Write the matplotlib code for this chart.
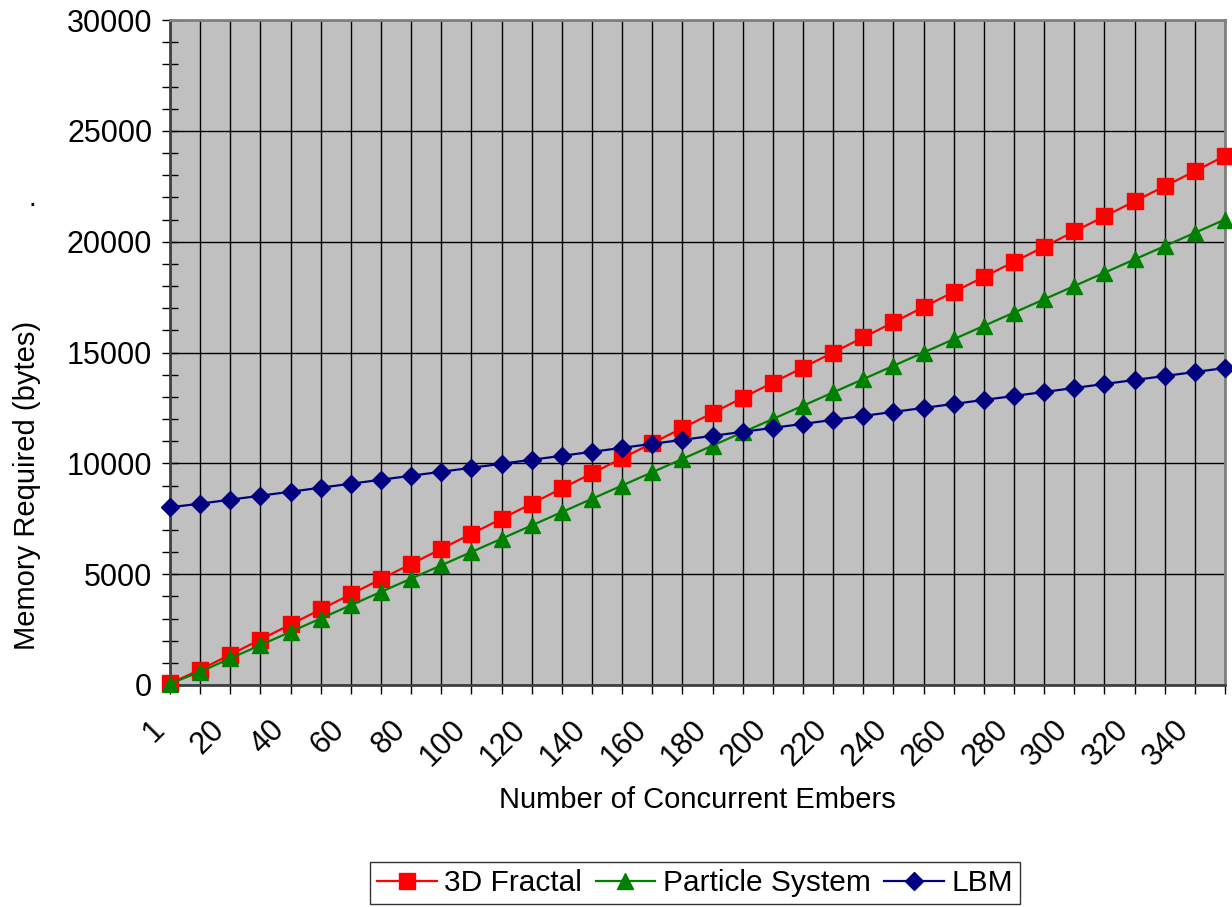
import matplotlib
matplotlib.use("Agg")
import matplotlib.pyplot as plt
from matplotlib.ticker import MultipleLocator
from matplotlib.transforms import ScaledTranslation

plt.rcParams["font.family"] = ["Liberation Sans", "DejaVu Sans"]

# =====================
# data
# =====================
embers = [1, 10, 20, 30, 40, 50, 60, 70, 80, 90, 100, 110, 120, 130, 140, 150, 160, 170,
          180, 190, 200, 210, 220, 230, 240, 250, 260, 270, 280, 290, 300, 310, 320, 330, 340, 350]

fractal_3d = [70, 690, 1370, 2050, 2730, 3410, 4090, 4780, 5460, 6140, 6820, 7500,
              8180, 8870, 9550, 10230, 10910, 11590, 12270, 12960, 13640, 14320, 15000, 15680,
              16360, 17050, 17730, 18410, 19090, 19770, 20460, 21140, 21820, 22500, 23180, 23870]

particle_system = [60, 600, 1200, 1800, 2400, 3000, 3600, 4200, 4800, 5400, 6000, 6600,
                   7200, 7800, 8400, 9000, 9600, 10200, 10800, 11400, 12000, 12600, 13200, 13800,
                   14400, 15000, 15600, 16200, 16800, 17400, 18000, 18600, 19200, 19800, 20400, 21000]

lbm = [8018, 8180, 8360, 8540, 8720, 8900, 9080, 9260, 9440, 9620, 9800, 9980,
       10160, 10340, 10520, 10700, 10880, 11060, 11240, 11420, 11600, 11780, 11960, 12140,
       12320, 12500, 12680, 12860, 13040, 13220, 13400, 13580, 13760, 13940, 14120, 14300]

series = [
    ("3D Fractal", fractal_3d, "#FF0000", "s", 11),
    ("Particle System", particle_system, "#008000", "^", 12),
    ("LBM", lbm, "#000080", "D", 9),
]

# =====================
# figure
# =====================
W, H = 1232, 907
fig = plt.figure(figsize=(W / 100, H / 100), dpi=100)
ax = fig.add_axes([170 / W, 1 - 685 / H, 1055 / W, 665 / H])
ax.set_facecolor("#C0C0C0")

pos = list(range(len(embers)))
for name, vals, color, marker, ms in series:
    ax.plot(pos, vals, color=color, lw=1.6, marker=marker, ms=ms,
            markeredgecolor=color, label=name, clip_on=False, zorder=3)

ax.set_xlim(0, len(embers) - 1)
ax.set_ylim(0, 30000)

# category ticks, label every second one
ax.set_xticks(pos)
ax.set_xticklabels([str(e) if i % 2 == 0 else "" for i, e in enumerate(embers)],
                   rotation=45, ha="right", va="top", rotation_mode="anchor", fontsize=22)
ax.tick_params(axis="x", length=6.5, width=1, pad=15, direction="out")
shift = ScaledTranslation(-21 / 100, 0, fig.dpi_scale_trans)
for lbl in ax.get_xticklabels():
    lbl.set_transform(lbl.get_transform() + shift)

ax.yaxis.set_major_locator(MultipleLocator(5000))
ax.yaxis.set_minor_locator(MultipleLocator(1000))
ax.tick_params(axis="y", which="major", length=11.5, width=1, labelsize=22, pad=7,
               direction="inout")
ax.tick_params(axis="y", which="minor", length=11, width=1, direction="inout")

ax.grid(True, axis="x", color="black", lw=1)
ax.grid(True, axis="y", which="major", color="black", lw=1)
ax.set_axisbelow(True)

for side in ["top", "right"]:
    ax.spines[side].set_color("#808080")
    ax.spines[side].set_linewidth(2)
for side in ["left", "bottom"]:
    ax.spines[side].set_color("#404040")
    ax.spines[side].set_linewidth(2)

ax.set_ylabel("Memory Required (bytes)", fontsize=21)
ax.yaxis.set_label_coords(-0.122, 0.30)
ax.set_xlabel("Number of Concurrent Embers", fontsize=21, labelpad=10)

fig.text(32 / W, 1 - 212 / H, ".", fontsize=20, ha="center", va="bottom")

leg = ax.legend(loc="center", bbox_to_anchor=(695 / W, 1 - 883 / H),
                bbox_transform=fig.transFigure, ncol=3, fontsize=21.5, frameon=True,
                fancybox=False, edgecolor="black", handlelength=2.0,
                handletextpad=0.25, columnspacing=0.45, borderpad=0.25)
leg.get_frame().set_linewidth(1)

fig.savefig("out.png", dpi=100, facecolor="white")
